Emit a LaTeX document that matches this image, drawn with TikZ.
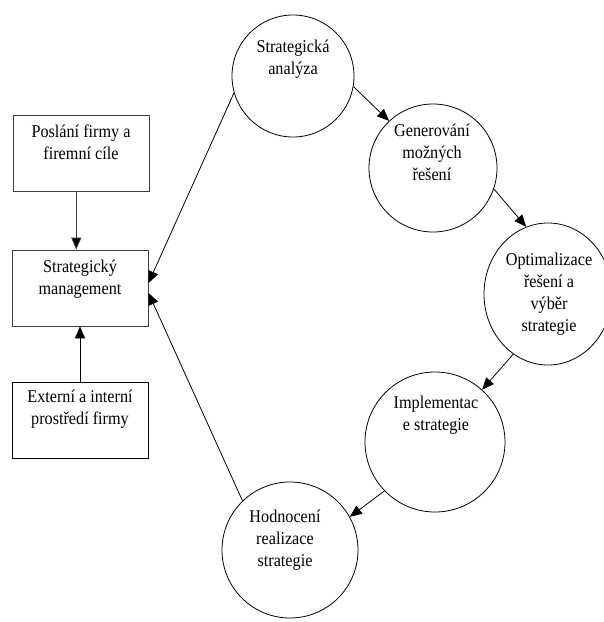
\documentclass[tikz,border=0pt]{standalone}
\usepackage{fontspec}
\setmainfont{Liberation Serif}
\newfontfamily\cfont[FakeStretch=0.9]{Liberation Serif}
\usetikzlibrary{arrows.meta,shapes.geometric}
\newcommand{\mline}[1]{\begin{tabular}[t]{@{}c@{}}#1\end{tabular}}
\begin{document}
\begin{tikzpicture}[x=1pt,y=-1pt,
  box/.style={draw, line width=0.8pt, minimum width=136pt, minimum height=76pt, inner sep=0pt},
  circ/.style={draw, circle, line width=0.8pt, inner sep=0pt},
  txt/.style={anchor=base, inner sep=0pt, font=\cfont\fontsize{18}{22}\selectfont},
  arr/.style={-{Triangle[length=12pt,width=10pt,fill=black]}, line width=0.8pt}]
\useasboundingbox (0,0) rectangle (604,622);
\clip (0,0) rectangle (604,622);
% boxes
\node[box, draw=black!75] (b1) at (81,153) {};
\node[box, draw=black!75] (b2) at (80,288) {};
\node[box] (b3) at (80,420) {};
\node[txt] (tb1) at (81,137) {\mline{Poslání firmy a\\firemní cíle}};
\node[txt] (tb2) at (80,272) {\mline{Strategický\\management}};
\node[txt] (tb3) at (80,402) {\mline{Externí a interní\\prostředí firmy}};
% circles
\node[circ, minimum size=122pt] (c1) at (293,76) {};
\node[circ, minimum size=128pt] (c2) at (433,168) {};
\node[draw, ellipse, line width=0.8pt, inner sep=0pt, minimum width=128pt, minimum height=142pt] (c3) at (548,294) {};
\node[circ, minimum size=140pt] (c4) at (435,442) {};
\node[circ, minimum size=136pt] (c5) at (290,550) {};
\node[txt] (tc1) at (293,52) {\mline{Strategická\\analýza}};
\node[txt] (tc2) at (432,136) {\mline{Generování\\možných\\řešení}};
\node[txt] (tc3) at (549,265) {\mline{Optimalizace\\řešení a\\výběr\\strategie}};
\node[txt] (tc4) at (436,408) {\mline{Implementac\\e strategie}};
\node[txt] (tc5) at (285,522) {\mline{Hodnocení\\realizace\\strategie}};
% connectors
\draw[arr, draw=black!75] (b1.-97.5) -- (b1.-97.5 |- b2.north);
\draw[arr] (b3.north) -- (b3.north |- b2.south);
\draw[arr] (c1.-10) -- (c2.133);
\draw[arr] (c2.-19) -- (c3.108);
\draw[arr] (c3.240) -- (c4.48);
\draw[arr] (c4.224) -- (c5.29);
\draw[arr] (c1.196) -- (b2.4);
\draw[arr] (c5.134) -- (b2.-4);
\end{tikzpicture}
\end{document}
